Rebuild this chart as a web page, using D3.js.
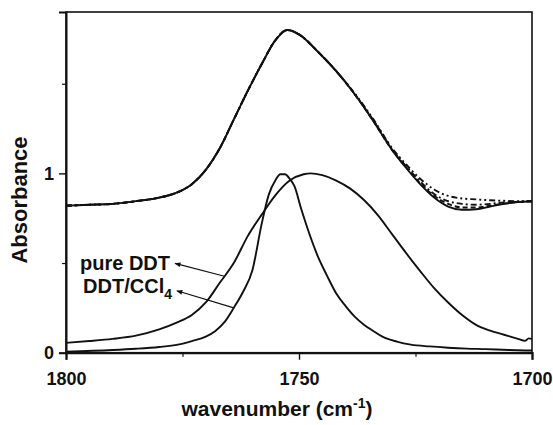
<!DOCTYPE html>
<html>
<head>
<meta charset="utf-8">
<script src="https://cdn.jsdelivr.net/npm/d3@7/dist/d3.min.js"></script>
<style>
  html, body { margin: 0; padding: 0; background: #fff; }
  svg { display: block; font-family: "Liberation Sans", Arial, sans-serif; }
</style>
</head>
<body>
<svg id="chart" width="553" height="425"></svg>
<script>
// Offset set of spectra (upper group) sampled on a common wavenumber grid
const upperWavenumber = [1800, 1795, 1790, 1785, 1780, 1776, 1773, 1770, 1767, 1764, 1761, 1758, 1755, 1752.5, 1750, 1746, 1742, 1738, 1734, 1730, 1727, 1724, 1721, 1718, 1715, 1712, 1709, 1706, 1703, 1700];
const upperSolid      = [0.82, 0.825, 0.83, 0.845, 0.865, 0.895, 0.94, 1.02, 1.14, 1.30, 1.46, 1.61, 1.745, 1.80, 1.775, 1.68, 1.57, 1.44, 1.29, 1.13, 1.03, 0.94, 0.865, 0.815, 0.797, 0.80, 0.815, 0.83, 0.84, 0.845];
const upperDashed     = [0.82, 0.825, 0.83, 0.845, 0.865, 0.895, 0.94, 1.02, 1.14, 1.30, 1.46, 1.61, 1.745, 1.80, 1.775, 1.68, 1.57, 1.44, 1.29, 1.13, 1.035, 0.945, 0.875, 0.83, 0.81, 0.81, 0.82, 0.832, 0.84, 0.845];
const upperDashDot    = [0.82, 0.825, 0.83, 0.845, 0.865, 0.895, 0.94, 1.02, 1.14, 1.30, 1.46, 1.61, 1.745, 1.80, 1.775, 1.68, 1.57, 1.44, 1.295, 1.135, 1.04, 0.955, 0.885, 0.845, 0.83, 0.825, 0.83, 0.838, 0.842, 0.845];
const upperDashDotDot = [0.82, 0.825, 0.83, 0.845, 0.865, 0.895, 0.94, 1.02, 1.14, 1.30, 1.46, 1.61, 1.745, 1.80, 1.775, 1.68, 1.57, 1.445, 1.30, 1.14, 1.05, 0.97, 0.91, 0.875, 0.86, 0.855, 0.85, 0.847, 0.845, 0.845];

// Pure DDT band
const pureWavenumber = [1800, 1795, 1790, 1785, 1780, 1776, 1773, 1770, 1767, 1764, 1761, 1758, 1755, 1752, 1749, 1747.5, 1745, 1742, 1739, 1736, 1733, 1730, 1727, 1724, 1721, 1718, 1715, 1712, 1709, 1706, 1703, 1701.5, 1700.7, 1700];
const pureAbsorbance = [0.055, 0.065, 0.077, 0.095, 0.13, 0.17, 0.21, 0.28, 0.39, 0.50, 0.65, 0.77, 0.88, 0.96, 0.995, 1.0, 0.99, 0.96, 0.915, 0.85, 0.765, 0.66, 0.555, 0.455, 0.36, 0.28, 0.21, 0.155, 0.123, 0.10, 0.077, 0.066, 0.08, 0.077];

// DDT in CCl4 band
const solnWavenumber = [1800, 1790, 1785, 1780, 1776, 1773, 1770, 1768, 1766, 1764, 1762, 1760, 1758, 1756.5, 1755, 1754, 1753, 1752, 1751, 1749.5, 1748, 1746, 1744, 1742, 1740, 1738, 1736, 1734, 1732, 1729, 1726, 1722, 1718, 1714, 1710, 1705, 1700];
const solnAbsorbance = [0.006, 0.015, 0.022, 0.032, 0.045, 0.065, 0.09, 0.12, 0.17, 0.25, 0.34, 0.46, 0.72, 0.88, 0.965, 0.995, 0.995, 0.97, 0.93, 0.80, 0.68, 0.54, 0.43, 0.33, 0.26, 0.20, 0.155, 0.12, 0.088, 0.062, 0.045, 0.035, 0.028, 0.023, 0.02, 0.015, 0.012];

// Axis ticks
const xMajorTicks = [1800, 1750, 1700];
const xMinorTicks = [1775, 1725];
const yMajorTicks = [0, 1];
const yMinorTicks = [0.5, 1.5];

// Annotation labels: wavenumber where each arrow meets its band, and arrow tip position
const annotationLabels = ["pure DDT", "DDT/CCl"];
const annotationAnchorsWn = [1766, 1764];
const annotationTipWn = [1776.6, 1776.2];
const annotationTipAbs = [0.498, 0.345];

const svg = d3.select("#chart");
const margin = { left: 66, right: 21, top: 12, bottom: 72 };
const W = 553, H = 425;
const x = d3.scaleLinear().domain([1800, 1700]).range([margin.left, W - margin.right]);
const y = d3.scaleLinear().domain([0, 1.9]).range([H - margin.bottom - 0.3, margin.top]);

// Frame
svg.append("rect")
  .attr("x", x(1800)).attr("y", y(1.9))
  .attr("width", x(1700) - x(1800)).attr("height", y(0) - y(1.9))
  .attr("fill", "none").attr("stroke", "#111").attr("stroke-width", 1.6);

const line = (xs, ys) => d3.line()
  .x((d, i) => x(xs[i])).y((d, i) => y(ys[i]))
  .curve(d3.curveMonotoneX)(ys);

const plot = svg.append("g").attr("fill", "none").attr("stroke", "#111").attr("stroke-linejoin", "round");

const upperSeries = [
  { v: upperDashDotDot, dash: "6,3,2,3,2,3" },
  { v: upperDashDot, dash: "6,3,2,3" },
  { v: upperDashed, dash: "5,3" },
  { v: upperSolid, dash: null }
];
upperSeries.forEach(s => {
  plot.append("path").attr("d", line(upperWavenumber, s.v))
    .attr("stroke-width", 1.9)
    .attr("stroke-dasharray", s.dash);
});
plot.append("path").attr("d", line(pureWavenumber, pureAbsorbance)).attr("stroke-width", 1.9);
plot.append("path").attr("d", line(solnWavenumber, solnAbsorbance)).attr("stroke-width", 1.9);

// Axes
const xAxis = d3.axisBottom(x).tickValues(xMajorTicks).tickSize(7).tickFormat(d3.format("d"));
const gx = svg.append("g").attr("transform", `translate(0,${y(0)})`).call(xAxis);
gx.select(".domain").attr("stroke-width", 2.2).attr("stroke", "#111");
gx.selectAll(".tick line").attr("stroke-width", 1.4).attr("stroke", "#111");
gx.selectAll(".tick text").attr("font-size", 18).attr("font-weight", "bold").attr("fill", "#111")
  .attr("font-family", "Liberation Sans, Arial, sans-serif").attr("dy", 0).attr("y", 32);
svg.append("g").attr("transform", `translate(0,${y(0)})`)
  .call(d3.axisBottom(x).tickValues(xMinorTicks).tickSize(4).tickFormat(""))
  .call(g => g.select(".domain").remove())
  .selectAll("line").attr("stroke-width", 1.2).attr("stroke", "#111");

const yAxis = d3.axisLeft(y).tickValues(yMajorTicks).tickSize(7).tickFormat(d3.format("d"));
const gy = svg.append("g").attr("transform", `translate(${x(1800)},0)`).call(yAxis);
gy.select(".domain").attr("stroke-width", 2).attr("stroke", "#111");
gy.selectAll(".tick line").attr("stroke-width", 1.4).attr("stroke", "#111");
gy.selectAll(".tick text").attr("font-size", 18).attr("font-weight", "bold").attr("fill", "#111")
  .attr("font-family", "Liberation Sans, Arial, sans-serif").attr("x", -12);
svg.append("g").attr("transform", `translate(${x(1800)},0)`)
  .call(d3.axisLeft(y).tickValues(yMinorTicks).tickSize(4).tickFormat(""))
  .call(g => g.select(".domain").remove())
  .selectAll("line").attr("stroke-width", 1.2).attr("stroke", "#111");

// Axis titles
const xt = svg.append("text").attr("x", 277).attr("y", 416)
  .attr("text-anchor", "middle").attr("font-size", 21).attr("font-weight", "bold").attr("fill", "#111");
xt.append("tspan").text("wavenumber (cm");
xt.append("tspan").text("-1").attr("font-size", 14).attr("dy", -8);
xt.append("tspan").text(")").attr("dy", 8);

svg.append("text").attr("transform", `translate(27,200) rotate(-90)`)
  .attr("text-anchor", "middle").attr("font-size", 22).attr("font-weight", "bold").attr("fill", "#111")
  .text("Absorbance");

// Annotations with arrows pointing back at the labels
const defs = svg.append("defs");
defs.append("marker").attr("id", "arrowhead").attr("viewBox", "0 0 10 10")
  .attr("refX", 9).attr("refY", 5).attr("markerWidth", 8).attr("markerHeight", 6)
  .attr("orient", "auto").attr("markerUnits", "userSpaceOnUse")
  .append("path").attr("d", "M0,1 L10,5 L0,9 Z").attr("fill", "#111");

const bands = [
  { wn: pureWavenumber, ab: pureAbsorbance },
  { wn: solnWavenumber, ab: solnAbsorbance }
];
annotationLabels.forEach((lab, i) => {
  const b = bands[i];
  const onBand = d3.scaleLinear().domain(b.wn).range(b.ab);
  const ax = x(annotationAnchorsWn[i]), ay = y(onBand(annotationAnchorsWn[i]));
  const tx = x(annotationTipWn[i]), ty = y(annotationTipAbs[i]);
  svg.append("line").attr("x1", ax).attr("y1", ay).attr("x2", tx).attr("y2", ty)
    .attr("stroke", "#111").attr("stroke-width", 1.1).attr("marker-end", "url(#arrowhead)");
  const t = svg.append("text").attr("font-size", 20).attr("font-weight", "bold").attr("fill", "#111")
    .attr("text-anchor", "end");
  if (i === 0) {
    t.attr("x", 170).attr("y", 270).text(lab);
  } else {
    t.attr("x", 172).attr("y", 293);
    t.append("tspan").text(lab);
    t.append("tspan").text("4").attr("font-size", 14).attr("dy", 6);
  }
});
</script>
</body>
</html>
